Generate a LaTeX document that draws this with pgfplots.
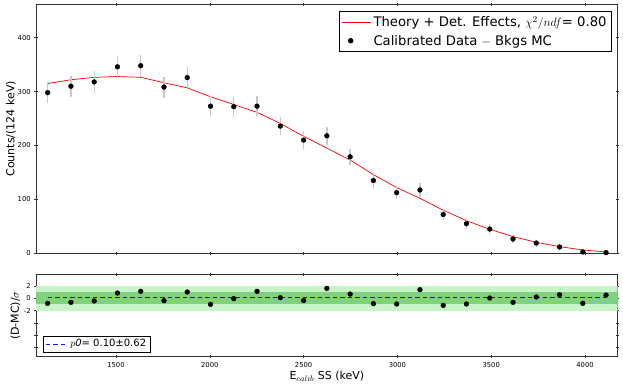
\documentclass[border=0pt]{standalone}
\usepackage{fontspec}
\setmainfont{DejaVu Sans}
\usepackage{pgfplots}
\usepackage{pgfplotstable}
\pgfplotsset{compat=1.18}
\definecolor{bandlight}{RGB}{200,245,200}
\definecolor{banddark}{RGB}{128,210,128}
\definecolor{errgray}{RGB}{200,200,200}
\definecolor{fitblue}{RGB}{20,20,255}

\pgfplotstableread{
x y err th res
1136 298 19 315 -0.81
1260 310 19.5 322 -0.65
1384 318 20 326.5 -0.43
1508 346 20.5 328 0.86
1632 348 20.7 326.5 1.14
1756 308.5 19.5 316.5 -0.38
1880 326 20 307 1.03
2004 273 18.5 290.5 -0.97
2128 272 18.5 276 -0.05
2252 273 18.5 261.5 1.14
2376 236 17.4 241 0.11
2500 210 16.5 217 -0.35
2624 218 16.8 195 1.62
2748 179 15.4 173 0.70
2872 135 13.6 146 -0.86
2996 112.5 12.6 122 -0.92
3120 117.5 12.8 102 1.41
3244 72 10.5 80 -1.14
3368 55 9.4 60.6 -0.92
3492 45 8.7 44.5 0.05
3616 26.6 7.2 31 -0.65
3740 19 6.4 20.4 0.22
3864 11.7 5.4 12.4 0.59
3988 2.5 3.6 6.2 -0.81
4112 1.2 3 2.5 0.54
}\datatable

\begin{document}
\begin{tikzpicture}
\path[use as bounding box] (0,0) rectangle (623pt,388pt);
\pgfplotsset{
  every axis/.append style={
    scale only axis,
    width=581.7pt,
    xmin=1074, xmax=4174,
    axis line style={black!80, line width=0.6pt},
    tick style={black!80, line width=0.5pt},
    major tick length=3.5pt,
    tick align=center,
    tick label style={font=\fontsize{6.8}{7}\selectfont},
    /pgf/number format/assume math mode=true,
    /pgf/number format/1000 sep={},
    xtick={1500,2000,...,4000},
  }
}
% top panel
\begin{axis}[
  at={(36pt,134.7pt)}, anchor=south west,
  height=249pt,
  ymin=0, ymax=462,
  ytick={0,100,...,400},
  xticklabels={},
  ylabel={Counts/(124 keV)},
  ylabel style={at={(rel axis cs:0,0.5)}, anchor=center, yshift=25pt, font=\fontsize{11}{13}\selectfont},
  legend style={at={(rel axis cs:0.990,0.973)}, anchor=north east,
    font=\fontsize{13.2}{16}\selectfont, draw=black, line width=0.6pt,
    row sep=3pt, inner xsep=3pt, inner ysep=3pt},
  legend cell align=left,
]
\addplot[red, line width=0.7pt,
  legend image code/.code={\draw[draw=red, line width=0.7pt] (0pt,0pt) -- (29pt,0pt);}]
  table[x=x, y=th] {\datatable};
\addlegendentry{Theory + Det. Effects, $\chi^2/ndf$= 0.80}
\addplot[only marks, mark=*, mark size=2.4pt, black,
  error bars/.cd, y dir=both, y explicit,
  error bar style={errgray, line width=1.3pt}, error mark=none]
  table[x=x, y=y, y error=err] {\datatable};
\addlegendentry{Calibrated Data $-$ Bkgs MC}
\end{axis}
% bottom panel
\begin{axis}[
  at={(36pt,31.3pt)}, anchor=south west,
  height=82pt,
  ymin=-9.5, ymax=3.85,
  ytick={-8,-6,-4,-2,0,2},
  yticklabels={,,,-2,0,2},
  xticklabels={1500,2000,2500,3000,3500,4000},
  xlabel={E$_{calib}$ SS (keV)},
  xlabel style={at={(rel axis cs:0.5,0)}, anchor=center, yshift=-19.5pt, font=\fontsize{11}{13}\selectfont},
  ylabel={(D-MC)/$\sigma$},
  ylabel style={at={(rel axis cs:0,0.5)}, anchor=center, yshift=20.5pt, font=\fontsize{11}{13}\selectfont},
  legend style={at={(rel axis cs:0.012,0.054)}, anchor=south west,
    font=\fontsize{10}{12}\selectfont, draw=black, line width=0.6pt,
    inner xsep=2pt, inner ysep=1.5pt},
]
\addplot[draw=none, fill=bandlight, forget plot] coordinates {(1074,-2) (4174,-2) (4174,2) (1074,2)} -- cycle;
\addplot[draw=none, fill=banddark, forget plot] coordinates {(1074,-1) (4174,-1) (4174,1) (1074,1)} -- cycle;
\addplot[color=fitblue, no markers, dash pattern=on 4.5pt off 3pt, line width=1pt,
  legend image code/.code={\draw[draw=fitblue, dash pattern=on 4.5pt off 3pt, line width=1pt] (0pt,0pt) -- (22pt,0pt);}]
  table[x=x, y=y] {
x y
1136 0.10
4112 0.10
};
\addlegendentry{$p\mathit{0}$= 0.10±0.62}
\addplot[only marks, mark=*, mark size=2.4pt, black, forget plot]
  table[x=x, y=res] {\datatable};
\end{axis}
\end{tikzpicture}
\end{document}
